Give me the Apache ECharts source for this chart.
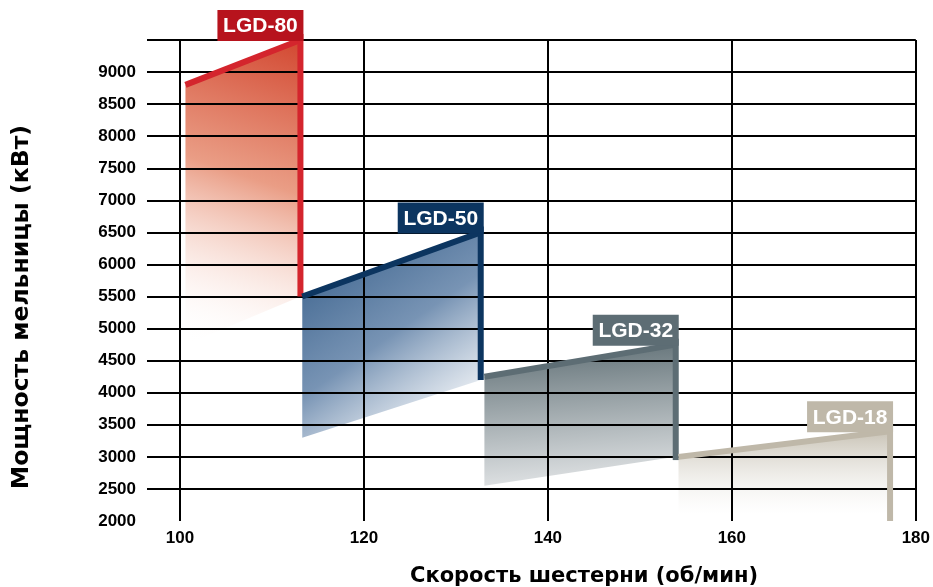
<!DOCTYPE html>
<html>
<head>
<meta charset="utf-8">
<script src="https://cdn.jsdelivr.net/npm/echarts@6/dist/echarts.min.js"></script>
<style>html,body{margin:0;padding:0;background:#fff;}#c{width:933px;height:587px;}</style>
</head>
<body>
<div id="c"></div>
<script>
// ---- data ----
const models = ['LGD-80', 'LGD-50', 'LGD-32', 'LGD-18'];
const speedStart = [100.6, 113.3, 133.1, 154.2];   // об/мин
const speedEnd = [113.1, 132.7, 153.9, 177.2];
const powerTopStart = [8800, 5500, 4250, 3000];     // кВт
const powerTopEnd = [9500, 6500, 4750, 3400];
const powerBottomStart = [4750, 3300, 2550, 2100];
const powerBottomEnd = [5500, 4200, 3000, 2100];
const powerLineEnd = [5500, 4200, 2950, 2000];
const xTicks = [100, 120, 140, 160, 180];
const yGridValues = [2500, 3000, 3500, 4000, 4500, 5000, 5500, 6000, 6500, 7000, 7500, 8000, 8500, 9000, 9500];

const lineColors = ['#d4252d', '#0c3560', '#5d6d74', '#bfb8a9'];
const boxColors = ['#b7131d', '#0c3560', '#5d6d74', '#bfb8a9'];
const fillGradients = [
  [0.95, 0, 0.05, 1, [[0, 'rgba(208,62,38,0.95)'], [0.45, 'rgba(230,140,112,0.85)'], [1, 'rgba(255,255,255,0)']]],
  [0.1, 0, 0.9, 1, [[0, 'rgba(44,86,132,0.95)'], [0.5, 'rgba(105,136,172,0.9)'], [1, 'rgba(255,255,255,0.6)']]],
  [0.5, 0, 0.55, 1, [[0, 'rgba(92,108,114,0.95)'], [1, 'rgba(220,223,225,0.85)']]],
  [0.5, 0, 0.5, 1, [[0, 'rgba(198,192,178,0.95)'], [1, 'rgba(255,255,255,0.3)']]]
];

const FONT = '"Liberation Sans", Arial, sans-serif';
const TITLE_FONT = '"DejaVu Sans", sans-serif';
const chart = echarts.init(document.getElementById('c'));

const seriesData = models.map((m, i) => [speedStart[i], speedEnd[i], powerTopStart[i], powerTopEnd[i],
  powerBottomStart[i], powerBottomEnd[i], powerLineEnd[i], i]);

function corners(api) {
  const x0 = api.value(0), x1 = api.value(1);
  return {
    i: api.value(7),
    tl: api.coord([x0, api.value(2)]),
    tr: api.coord([x1, api.value(3)]),
    br: api.coord([x1, api.value(5)]),
    bl: api.coord([x0, api.value(4)]),
    le: api.coord([x1, api.value(6)])
  };
}

function renderFill(params, api) {
  const c = corners(api);
  const g = fillGradients[c.i];
  return {
    type: 'polygon',
    shape: { points: [c.tl, c.tr, c.br, c.bl] },
    style: { fill: new echarts.graphic.LinearGradient(g[0], g[1], g[2], g[3], g[4].map(s => ({ offset: s[0], color: s[1] }))) }
  };
}

function renderLines(params, api) {
  const c = corners(api);
  const i = c.i;
  const lw = 6;
  const boxW = 86, boxH = 31;
  const boxRight = c.tr[0] + 3;
  const boxBottom = c.tr[1] + 1;
  return {
    type: 'group',
    children: [
      { type: 'line', shape: { x1: c.tl[0], y1: c.tl[1], x2: c.tr[0], y2: c.tr[1] }, style: { stroke: lineColors[i], lineWidth: lw } },
      { type: 'line', shape: { x1: c.tr[0], y1: c.tr[1] - 6, x2: c.le[0], y2: c.le[1] }, style: { stroke: lineColors[i], lineWidth: lw } },
      { type: 'rect', shape: { x: boxRight - boxW, y: boxBottom - boxH, width: boxW, height: boxH }, style: { fill: boxColors[i] } },
      {
        type: 'text',
        style: {
          text: models[i], x: boxRight - boxW / 2, y: boxBottom - boxH / 2 + 1,
          align: 'center', verticalAlign: 'middle', fill: '#ffffff', font: 'bold 21px ' + FONT
        }
      }
    ]
  };
}

const option = {
  animation: false,
  backgroundColor: '#ffffff',
  grid: { left: 147, right: 15, top: 40, bottom: 66 },
  xAxis: {
    type: 'value', min: 96.42, max: 180,
    axisLine: { show: false }, axisTick: { show: false }, splitLine: { show: false },
    axisLabel: { customValues: xTicks, margin: 9, color: '#000', fontWeight: 'bold', fontSize: 17, fontFamily: FONT }
  },
  yAxis: {
    type: 'value', min: 2000, max: 9500, interval: 500,
    axisLine: { show: false }, axisTick: { show: false }, splitLine: { show: false },
    axisLabel: {
      margin: 11, color: '#000', fontWeight: 'bold', fontSize: 17, fontFamily: FONT,
      formatter: v => (v === 9500 ? '' : String(v))
    }
  },
  graphic: [
    { type: 'text', left: 410, top: 566, style: { text: 'Скорость шестерни (об/мин)', fill: '#000', font: 'bold 21px ' + TITLE_FONT } },
    { type: 'text', left: 10, top: 125, rotation: Math.PI / 2, style: { text: 'Мощность мельницы (кВт)', fill: '#000', font: 'bold 23.5px ' + TITLE_FONT } }
  ],
  series: [
    {
      type: 'custom', z: 1, renderItem: renderFill, data: seriesData,
      encode: { x: [0, 1], y: [2, 3, 4, 5, 6] }, clip: false
    },
    {
      type: 'line', z: 2, data: [], silent: true,
      markLine: {
        silent: true, symbol: 'none', animation: false, z: 2,
        label: { show: false },
        lineStyle: { color: '#000', width: 2, type: 'solid' },
        data: yGridValues.map(v => ({ yAxis: v })).concat(xTicks.map(v => ({ xAxis: v })))
      }
    },
    {
      type: 'custom', z: 3, renderItem: renderLines, data: seriesData,
      encode: { x: [0, 1], y: [2, 3, 4, 5, 6] }, clip: false
    }
  ]
};
chart.setOption(option);
</script>
</body>
</html>
